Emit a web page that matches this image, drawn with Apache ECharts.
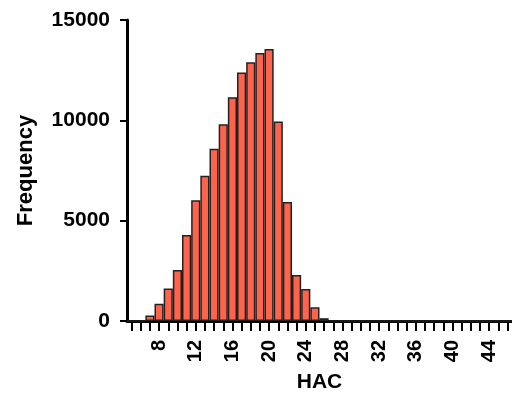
<!DOCTYPE html>
<html>
<head>
<meta charset="utf-8">
<script src="https://cdn.jsdelivr.net/npm/echarts@6/dist/echarts.min.js"></script>
<style>
  html, body { margin: 0; padding: 0; background: #fff; }
  #chart { width: 512px; height: 398px; }
</style>
</head>
<body>
<div id="chart"></div>
<script>
// HAC bins (one bar per integer value)
const hacBins = [];
for (let v = 5; v <= 46; v++) hacBins.push(String(v));

// frequency per bin (5..46)
const frequency = [
  0, 0, 280, 860, 1620, 2540, 4280, 6020, 7240, 8590,
  9810, 11150, 12380, 12890, 13360, 13560, 9940, 5930, 2290, 1590,
  680, 140, 0, 0, 0, 0, 0, 0, 0, 0,
  0, 0, 0, 0, 0, 0, 0, 0, 0, 0,
  0, 0
];

const yTicks = [0, 5000, 10000, 15000];
const labelEvery = 4;

const font = 'Liberation Sans';
const chart = echarts.init(document.getElementById('chart'));

chart.setOption({
  animation: false,
  grid: { left: 127, top: 20, width: 388, height: 302 },
  xAxis: {
    type: 'category',
    data: hacBins,
    name: 'HAC',
    nameLocation: 'middle',
    nameGap: 51,
    nameTextStyle: { fontFamily: font, fontWeight: 'bold', fontSize: 21, color: '#000' },
    axisLine: { show: true, lineStyle: { color: '#000', width: 3 } },
    axisTick: { show: true, alignWithLabel: true, interval: 0, length: 10, lineStyle: { color: '#000', width: 2 } },
    axisLabel: {
      rotate: 90,
      margin: 19,
      interval: (i, v) => Number(v) % labelEvery === 0,
      fontFamily: font, fontWeight: 'bold', fontSize: 20, color: '#000'
    }
  },
  yAxis: {
    type: 'value',
    min: yTicks[0],
    max: yTicks[yTicks.length - 1],
    interval: 5000,
    name: 'Frequency',
    nameLocation: 'middle',
    nameGap: 90,
    nameTextStyle: { fontFamily: font, fontWeight: 'bold', fontSize: 22, color: '#000' },
    splitLine: { show: false },
    axisLine: { show: true, lineStyle: { color: '#000', width: 3 } },
    axisTick: { show: true, length: 7, lineStyle: { color: '#000', width: 2 } },
    axisLabel: {
      margin: 17,
      formatter: v => String(v),
      fontFamily: font, fontWeight: 'bold', fontSize: 21, color: '#000'
    }
  },
  series: [{
    type: 'bar',
    data: frequency,
    barCategoryGap: '0%',
    itemStyle: { color: '#ff634b', borderColor: '#222', borderWidth: 1.5 }
  }]
});
</script>
</body>
</html>
